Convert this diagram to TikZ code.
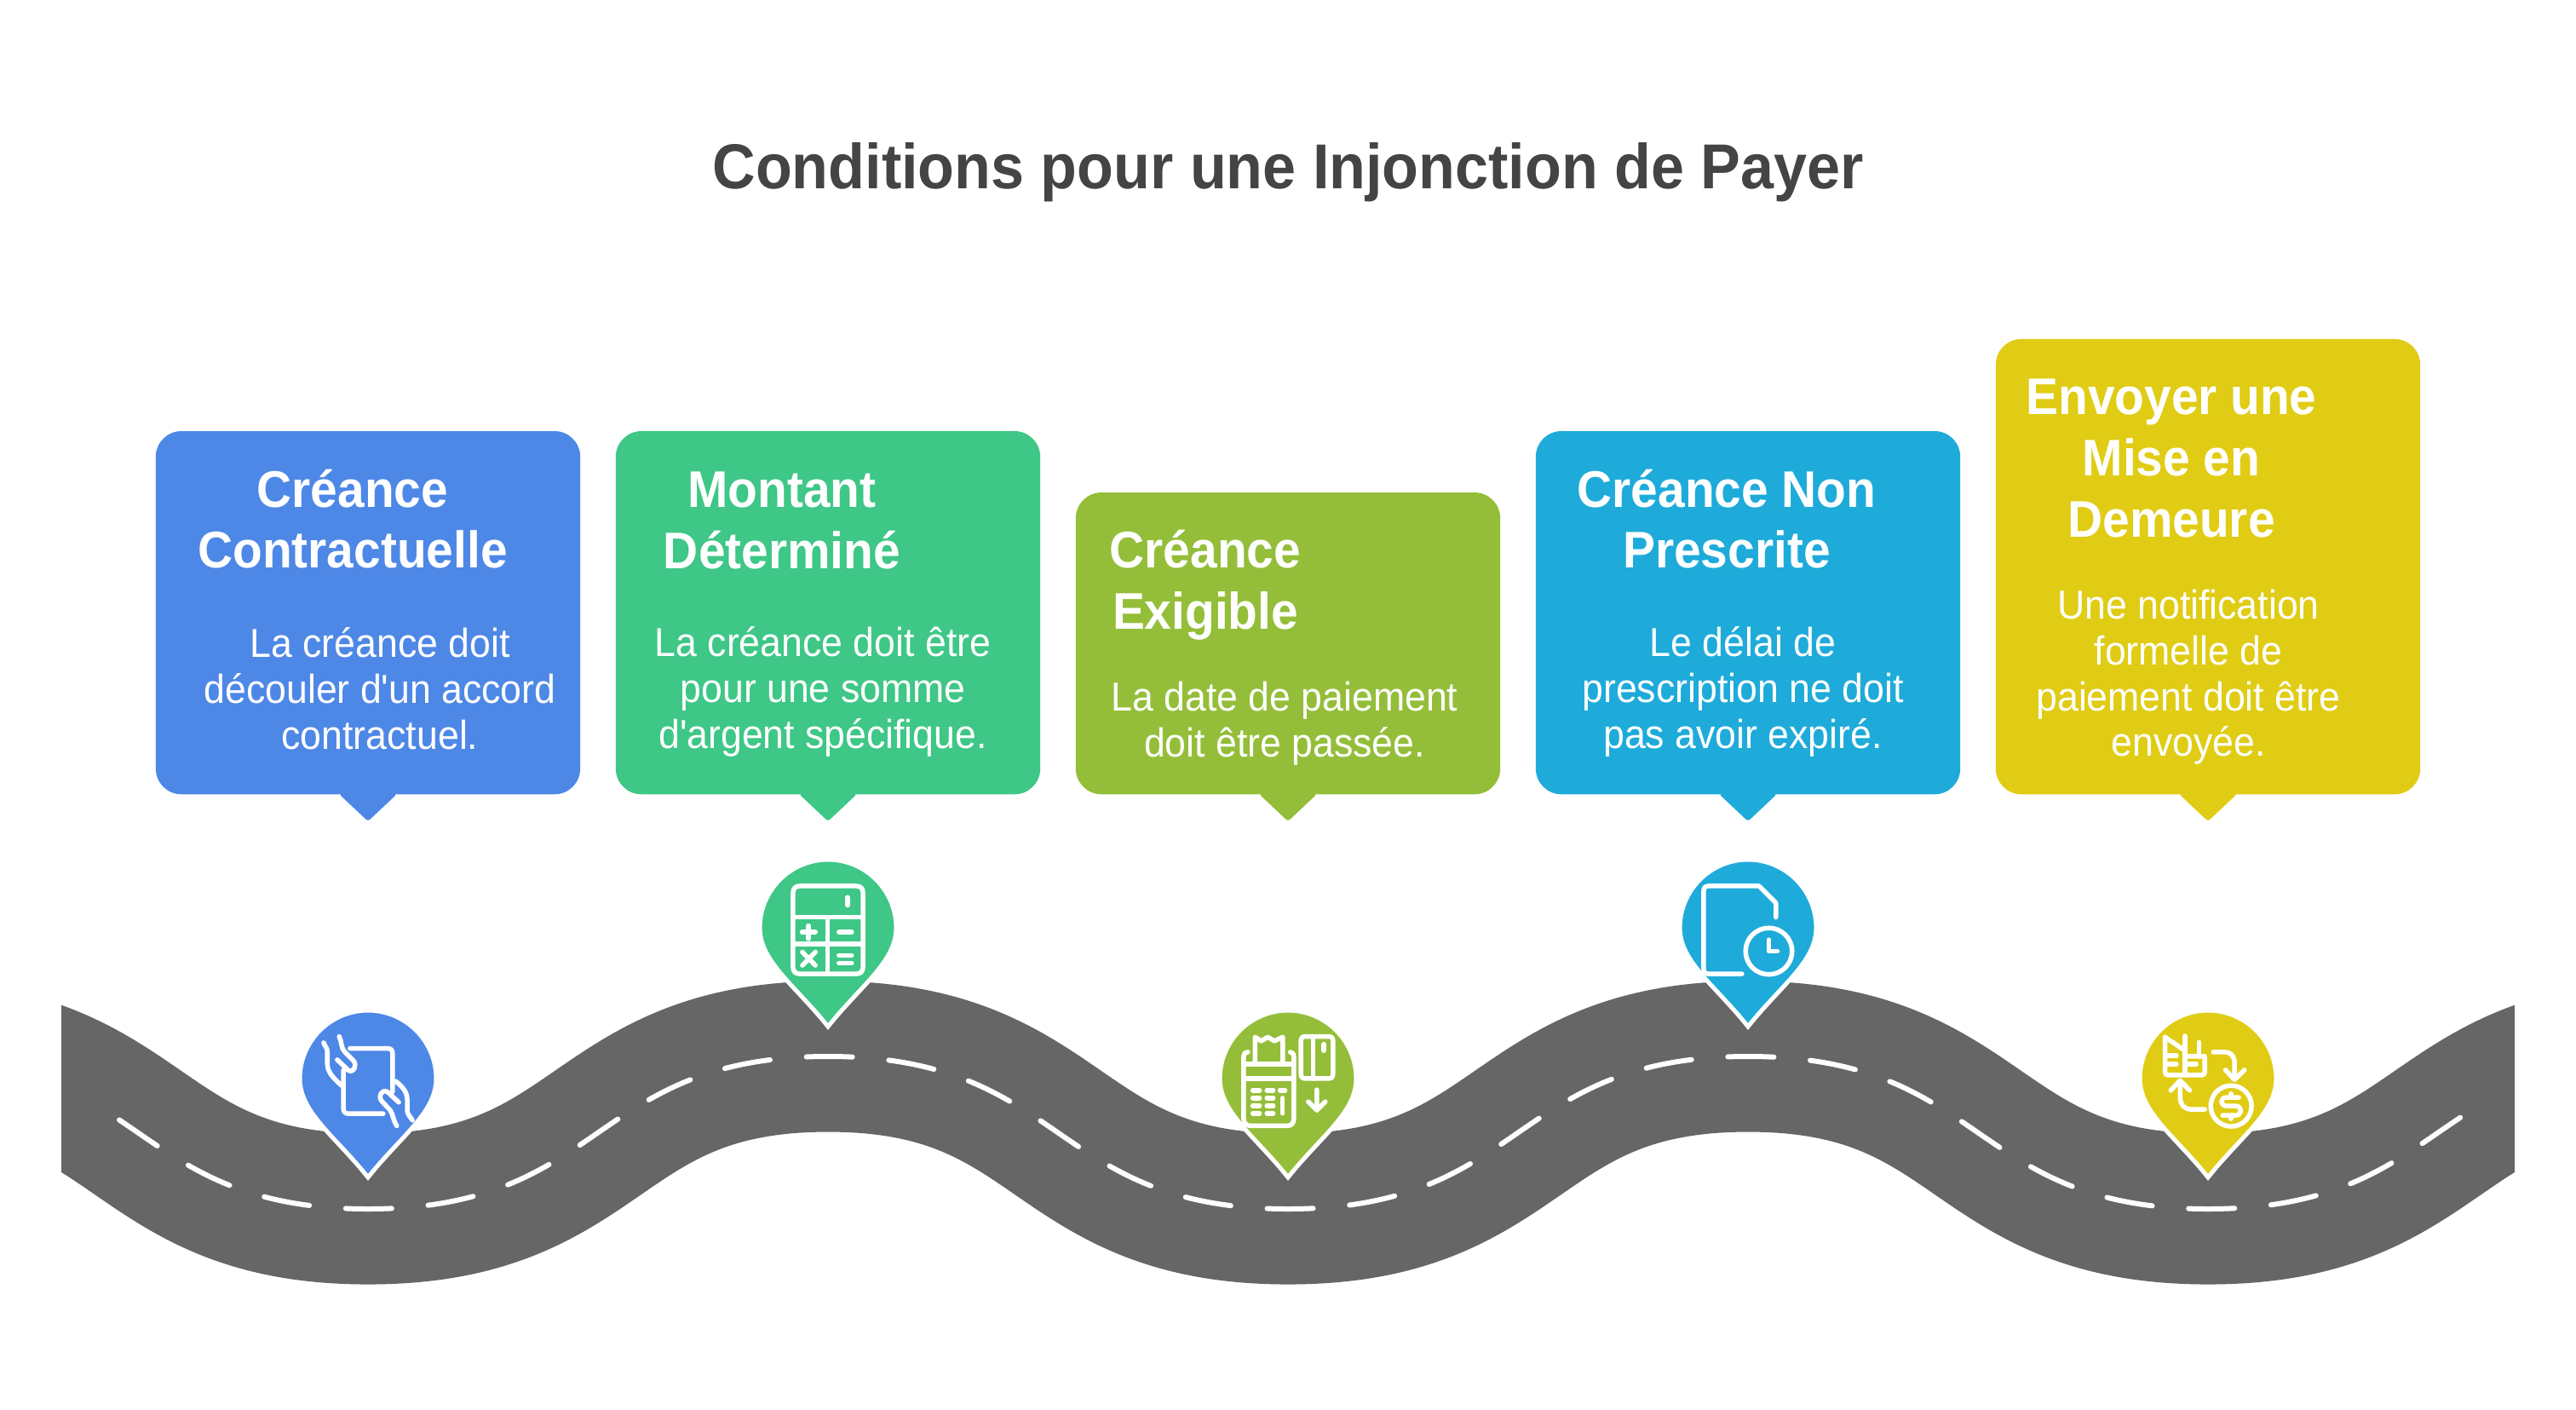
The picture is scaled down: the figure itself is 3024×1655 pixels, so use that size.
\documentclass[tikz,border=0pt]{standalone}
\usepackage{fontspec}
\setmainfont{Liberation Sans}[FakeStretch=0.94,Ligatures=TeXOff]
\usepackage{xcolor}
\definecolor{roadgray}{HTML}{666666}
\definecolor{titlegray}{HTML}{444444}
\definecolor{blueA}{HTML}{4E88E7}
\definecolor{greenB}{HTML}{3EC786}
\definecolor{oliveC}{HTML}{94BE39}
\definecolor{cyanD}{HTML}{1EABDA}
\definecolor{yellowE}{HTML}{E0CC14}

% centre line of the road
\def\roadline{(-108,1240) .. controls (172,1240) and (152,1419) .. (432,1419)
 .. controls (712,1419) and (692,1240) .. (972,1240)
 .. controls (1252,1240) and (1232,1419) .. (1512,1419)
 .. controls (1792,1419) and (1772,1240) .. (2052,1240)
 .. controls (2332,1240) and (2312,1419) .. (2592,1419)
 .. controls (2872,1419) and (2852,1240) .. (3132,1240)}

% teardrop marker: #1 x, #2 y of the head's centre, #3 colour
\newcommand{\marker}[3]{
 \draw[draw=white,line width=.05cm,fill=#3,shift={(#1,#2)}]
  (-80,0) .. controls (-80,-44) and (-44,-80) .. (0,-80)
  .. controls (44,-80) and (80,-44) .. (80,0)
  .. controls (80,40) and (38,68) .. (0,116)
  .. controls (-38,68) and (-80,40) .. (-80,0) -- cycle;
}

\tikzset{
 callout/.style={rounded corners=.3cm,minimum width=4.98cm,inner sep=0pt,anchor=south},
 tail/.style={rounded corners=.03cm},
 headtext/.style={text=white,align=center,font=\fontsize{17.2}{20.4}\selectfont\bfseries},
 bodytext/.style={text=white,align=center,font=\fontsize{13.5}{15.3}\selectfont},
 icon/.style={draw=white,line width=.055cm,line cap=round,line join=round},
 zoomed/.style={x=.00333cm,y=-.00333cm}
}

\begin{document}
\begin{tikzpicture}[x=.01cm,y=-.01cm]
 \useasboundingbox (0,0) rectangle (3024,1655);

 \node[text=titlegray,font=\fontsize{21.2}{25}\selectfont\bfseries] (title) at (1512,202) {Conditions pour une Injonction de Payer};

 % road
 \begin{scope}
 \clip (72,1100) rectangle (2952,1560);
 \draw[roadgray,line width=1.77cm] \roadline;
 \end{scope}
 \begin{scope}
 \clip (125,1200) rectangle (2895,1500);
 \draw[white,line width=.06cm,line cap=round,dash pattern=on .54cm off .428cm,dash phase=.27cm] \roadline;
 \end{scope}

 % callouts
 \node[callout,fill=blueA,minimum height=4.26cm] (boxA) at (432,933) {};
 \node[callout,fill=greenB,minimum height=4.26cm] (boxB) at (972,933) {};
 \node[callout,fill=oliveC,minimum height=3.54cm] (boxC) at (1512,933) {};
 \node[callout,fill=cyanD,minimum height=4.26cm] (boxD) at (2052,933) {};
 \node[callout,fill=yellowE,minimum height=5.34cm] (boxE) at (2592,933) {};
 \fill[blueA,tail] (398,932) -- (432,964) -- (466,932) -- cycle;
 \fill[greenB,tail] (938,932) -- (972,964) -- (1006,932) -- cycle;
 \fill[oliveC,tail] (1478,932) -- (1512,964) -- (1546,932) -- cycle;
 \fill[cyanD,tail] (2018,932) -- (2052,964) -- (2086,932) -- cycle;
 \fill[yellowE,tail] (2558,932) -- (2592,964) -- (2626,932) -- cycle;

 \node[headtext] (headA) at (414,609) {Créance\\Contractuelle};
 \node[bodytext] (bodyA) at (446,808) {La créance doit\\découler d'un accord\\contractuel.};
 \node[headtext] (headB) at (918,611) {Montant\\Déterminé};
 \node[bodytext] (bodyB) at (966,812) {La créance doit être\\pour une somme\\d'argent spécifique.};
 \node[headtext] (headC) at (1415,687) {Créance\\Exigible};
 \node[bodytext] (bodyC) at (1508,849) {La date de paiement\\doit être passée.};
 \node[headtext] (headD) at (2027,609) {Créance Non\\Prescrite};
 \node[bodytext] (bodyD) at (2046,812) {Le délai de\\prescription ne doit\\pas avoir expiré.};
 \node[headtext] (headE) at (2549,538) {Envoyer une\\Mise en\\Demeure};
 \node[bodytext] (bodyE) at (2569,795) {Une notification\\formelle de\\paiement doit être\\envoyée.};

 % markers
 \marker{432}{1266}{blueA}
 \marker{972}{1089}{greenB}
 \marker{1512}{1266}{oliveC}
 \marker{2052}{1089}{cyanD}
 \marker{2592}{1266}{yellowE}

 % tablet held in two hands
 \begin{scope}[shift={(330,1180)},zoomed]
 \draw[icon] (243,152) -- (375,152) .. controls (388,152) and (393,158) .. (393,170) -- (393,305);
 \draw[icon] (360,382) -- (238,382) .. controls (226,382) and (220,376) .. (220,365) -- (220,228);
 \draw[icon] (150,132) .. controls (155,145) and (163,150) .. (163,165) -- (163,205) .. controls (163,240) and (190,260) .. (212,282);
 \draw[icon] (205,110) .. controls (215,130) and (210,150) .. (225,165) -- (255,195) .. controls (270,212) and (255,240) .. (238,230) -- (198,192);
 \draw[icon] (405,268) .. controls (430,290) and (445,305) .. (445,335) -- (445,370) .. controls (445,385) and (455,392) .. (463,405);
 \draw[icon] (415,342) -- (375,305) .. controls (355,295) and (340,320) .. (355,338) -- (385,370) .. controls (395,385) and (395,405) .. (408,425);
 \end{scope}

 % calculator
 \begin{scope}[shift={(870,1000)},zoomed]
 \draw[icon] (183,145) .. controls (183,128) and (192,120) .. (208,120) -- (405,120) .. controls (421,120) and (430,128) .. (430,145) -- (430,405) .. controls (430,422) and (421,430) .. (405,430) -- (208,430) .. controls (192,430) and (183,422) .. (183,405) -- cycle;
 \draw[icon] (183,230) -- (430,230) (183,325) -- (430,325) (305,230) -- (305,430);
 \draw[icon] (375,160) -- (375,188);
 \draw[icon] (215,283) -- (262,283) (238,260) -- (238,306);
 \draw[icon] (345,283) -- (390,283);
 \draw[icon] (216,353) -- (262,400) (262,353) -- (216,400);
 \draw[icon] (345,365) -- (390,365) (345,392) -- (390,392);
 \end{scope}

 % payment terminal and card
 \begin{scope}[shift={(1420,1180)},zoomed]
 \draw[icon] (135,165) .. controls (125,165) and (120,172) .. (120,182) -- (120,400) .. controls (120,416) and (130,425) .. (145,425) -- (272,425) .. controls (288,425) and (297,416) .. (297,400) -- (297,182) .. controls (297,172) and (292,165) .. (284,165);
 \draw[icon] (120,208) -- (297,208) (120,258) -- (297,258);
 \draw[icon] (160,208) -- (160,112) -- (182,126) -- (205,112) -- (228,126) -- (258,112) -- (258,208);
 \draw[icon] (152,300) -- (176,300) (202,300) -- (224,300) (248,300) -- (266,300);
 \draw[icon] (152,327) -- (176,327) (202,327) -- (224,327);
 \draw[icon] (152,354) -- (176,354) (202,354) -- (224,354);
 \draw[icon] (152,381) -- (176,381) (202,381) -- (224,381) (257,327) -- (257,381);
 \draw[icon] (337,110) -- (420,110) .. controls (430,110) and (435,115) .. (435,125) -- (435,243) .. controls (435,253) and (430,258) .. (420,258) -- (337,258) .. controls (327,258) and (322,253) .. (322,243) -- (322,125) .. controls (322,115) and (327,110) .. (337,110) -- cycle;
 \draw[icon] (365,110) -- (365,258);
 \draw[icon] (403,137) -- (403,160);
 \draw[icon] (378,298) -- (378,370) (348,340) -- (378,370) -- (408,340);
 \end{scope}

 % document with clock
 \begin{scope}[shift={(1950,1000)},zoomed]
 \draw[icon] (285,430) -- (168,430) .. controls (156,430) and (150,424) .. (150,412) -- (150,138) .. controls (150,126) and (156,120) .. (168,120) -- (345,120) -- (405,180) -- (405,230);
 \draw[icon] (380,350) circle [radius=82];
 \draw[icon] (380,310) -- (380,350) -- (410,350);
 \end{scope}

 % invoice and coin exchange
 \begin{scope}[shift={(2500,1180)},zoomed]
 \draw[icon] (125,112) -- (125,235) .. controls (125,242) and (128,246) .. (135,246) -- (255,246) .. controls (262,246) and (265,242) .. (265,235) -- (265,180) -- (195,180);
 \draw[icon] (125,112) -- (195,160);
 \draw[icon] (195,108) -- (195,246) (245,130) -- (245,180);
 \draw[icon] (130,178) -- (165,178) (130,208) -- (165,208) (195,208) -- (235,208);
 \draw[icon] (295,165) -- (335,165) .. controls (358,165) and (370,180) .. (370,205) -- (370,262) (338,228) -- (370,262) -- (405,228);
 \draw[icon] (358,355) circle [radius=72];
 \draw[icon] (385,325) -- (342,325) .. controls (318,325) and (318,355) .. (342,355) -- (374,355) .. controls (398,355) and (398,388) .. (374,388) -- (328,388);
 \draw[icon] (358,312) -- (358,325) (358,388) -- (358,400);
 \draw[icon] (265,367) -- (218,367) .. controls (193,367) and (178,350) .. (178,325) -- (178,265) (145,300) -- (178,265) -- (212,300);
 \end{scope}
\end{tikzpicture}
\end{document}
